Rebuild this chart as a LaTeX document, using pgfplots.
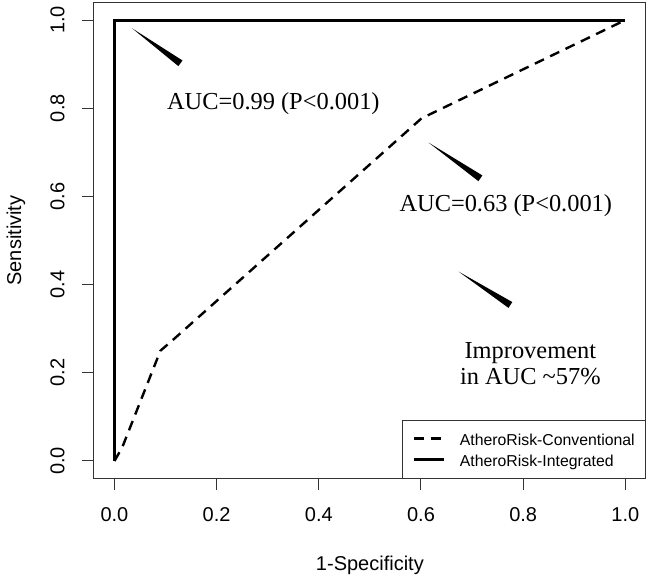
\documentclass[border=0pt]{standalone}
\usepackage{pgfplots}
\pgfplotsset{compat=1.18}
\usepackage{fontspec}
\setmainfont{Liberation Sans}
\newfontfamily\timesfont{Liberation Serif}

\begin{document}
\begin{tikzpicture}
\begin{axis}[
    scale only axis,
    width=275.9pt, height=238.1pt,
    xmin=-0.04, xmax=1.04, ymin=-0.04, ymax=1.04,
    axis line style={black!80, line width=0.5pt},
    xtick={0,0.2,0.4,0.6,0.8,1.0},
    ytick={0,0.2,0.4,0.6,0.8,1.0},
    tick align=outside, xtick pos=left, ytick pos=left,
    major tick length=5.8pt,
    tick style={black!80, line width=0.5pt},
    /pgf/number format/fixed,
    /pgf/number format/fixed zerofill,
    /pgf/number format/precision=1,
    /pgf/number format/assume math mode=true,
    tick label style={font=\fontsize{10}{12}\selectfont},
    xticklabel style={inner sep=0pt, anchor=north},
    yticklabel style={inner sep=0pt, rotate=90, anchor=south},
    xticklabel shift=8.25pt, yticklabel shift=8.7pt,
    label style={font=\fontsize{10}{12}\selectfont},
    xlabel={1-Specificity}, ylabel={Sensitivity},
    xlabel style={at={(axis description cs:0.5,-0.1814)}, anchor=center},
    ylabel style={at={(axis description cs:-0.1414,0.5)}, anchor=center},
    legend style={at={(rel axis cs:1,0)}, anchor=south east,
        draw=black!80, line width=0.5pt,
        font=\fontsize{7.9}{9}\selectfont,
        inner xsep=5.3pt, inner ysep=4.5pt,
        nodes={inner sep=0pt, text height=8pt, text depth=1.5pt},
        /tikz/column sep=7pt, /tikz/row sep=1pt},
    legend cell align=left,
    legend image code/.code={\draw[#1] (0pt,0pt) -- (15pt,0pt);},
]

% conventional risk score ROC
\addplot[black, line width=1.2pt, line join=round, dash pattern=on 5pt off 3.5pt] coordinates {
    (0,0) (0.015,0.03) (0.09,0.25) (0.115,0.275) (0.601,0.777) (1,1)
};
\addlegendentry{AtheroRisk-Conventional}

% integrated score ROC
\addplot[black, line width=1.5pt, line join=miter] coordinates {
    (0,0) (0,1) (1,1)
};
\addlegendentry{AtheroRisk-Integrated}

% wedge pointers
\fill (axis cs:0.0346,0.9812) -- (axis cs:0.1251,0.8954) -- (axis cs:0.1332,0.9083) -- cycle;
\fill (axis cs:0.6151,0.7218) -- (axis cs:0.7124,0.6345) -- (axis cs:0.7201,0.6476) -- cycle;
\fill (axis cs:0.6738,0.4293) -- (axis cs:0.7713,0.3471) -- (axis cs:0.7787,0.3604) -- cycle;

\node[font=\timesfont\fontsize{12.2}{14}\selectfont, anchor=base] at (axis cs:0.311,0.796) {AUC=0.99 (P\textless0.001)};
\node[font=\timesfont\fontsize{12.2}{14}\selectfont, anchor=base] at (axis cs:0.766,0.5653) {AUC=0.63 (P\textless0.001)};
\node[font=\timesfont\fontsize{12.2}{14}\selectfont, anchor=base] at (axis cs:0.814,0.2329) {Improvement};
\node[font=\timesfont\fontsize{12.2}{14}\selectfont, anchor=base] at (axis cs:0.814,0.1723) {in AUC \textasciitilde57\%};

\end{axis}
\pgfresetboundingbox
\path[use as bounding box] (-47pt,-49.2pt) rectangle (277pt,239.3pt);
\end{tikzpicture}
\end{document}
